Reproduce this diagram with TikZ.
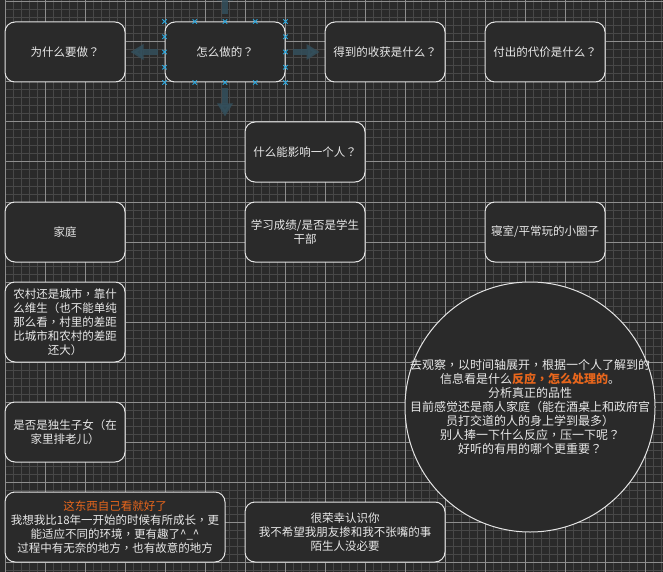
\documentclass[tikz,border=0pt]{standalone}
\usepackage{fontspec}
\newfontfamily\cjk{Noto Sans CJK SC}
\newfontfamily\cjkp{Noto Sans CJK TC}
\newcommand\fq{{\cjkp ？}}
\newcommand\fc{{\cjkp ，}}
\usetikzlibrary{arrows.meta,calc}
\definecolor{bg}{HTML}{2A2A2A}
\definecolor{minorg}{HTML}{484848}
\definecolor{majorg}{HTML}{8E8E8E}
\definecolor{edge}{HTML}{E4E4E4}
\definecolor{txt}{HTML}{E8E8E8}
\definecolor{orng}{HTML}{E8661C}
\definecolor{handle}{HTML}{2AAAE2}
\definecolor{hint}{HTML}{34505D}
\begin{document}
\begin{tikzpicture}[x=1pt,y=-1pt,
  box/.style={draw=edge, line width=1pt, fill=bg, rounded corners=10pt,
    minimum width=120pt, minimum height=60pt, inner sep=1pt, align=center,
    text=txt, font=\cjk\fontsize{11.5}{14}\selectfont},
  plain/.style={inner sep=0pt, align=center, text=txt, font=\cjk\fontsize{11.5}{14}\selectfont},
  bubble/.style={circle, draw=edge, fill=bg, minimum size=250pt, inner sep=0pt, line width=1pt},
  hintarrow/.style={hint, opacity=0.85, line width=6pt, -{Triangle[width=15pt,length=13pt]}},
  handlemark/.style={handle, line width=0.8pt}
]
\useasboundingbox (0,0) rectangle (663,572);
\clip (0,0) rectangle (663,572);
\fill[bg] (0,0) rectangle (663,572);
% grid
\foreach \i in {0,...,82} \draw[minorg, line width=1pt] ({5+8*\i},0) -- ({5+8*\i},572);
\foreach \j in {0,...,71} \draw[minorg, line width=1pt] (5,{2+8*\j}) -- (663,{2+8*\j});
\foreach \i in {0,...,16} \draw[majorg, line width=1pt] ({5+40*\i},0) -- ({5+40*\i},572);
\foreach \j in {0,...,14} \draw[majorg, line width=1pt] (5,{2+40*\j}) -- (663,{2+40*\j});

% nodes
\node[box] (why) at (65,52) {为什么要做\fq};
\node[box] (how) at (225,52) {怎么做的\fq};
\node[box] (gain) at (385,52) {得到的收获是什么\fq};
\node[box] (cost) at (545,52) {付出的代价是什么\fq};
\node[box] (infl) at (305,152) {什么能影响一个人\fq};
\node[box] (fam) at (65,232) {家庭};
\node[box] (study) at (305,232) {学习成绩/是否是学生\\干部};
\node[box] (dorm) at (545,232) {寝室/平常玩的小圈子};
\node[box, minimum height=80pt] (rural) at (65,322) {农村还是城市\fc 靠什\\么维生（也不能单纯\\那么看\fc 村里的差距\\比城市和农村的差距\\还大）};
\node[box] (only) at (65,432) {是否是独生子女（在\\家里排老儿）};
\node[box, minimum width=220pt, minimum height=70pt] (self) at (115,527) {{\color{orng}这东西自己看就好了}\\我想我比18年一开始的时候有所成长\fc 更\\能适应不同的环境\fc 更有趣了\textasciicircum\_\textasciicircum\\过程中有无奈的地方\fc 也有故意的地方};
\node[box, minimum width=200pt] (glad) at (345,532) {很荣幸认识你\\我不希望我朋友掺和我不张嘴的事\\陌生人没必要};
\node[bubble] (obs) at (530,407) {};
\node[plain, font=\cjk\fontsize{12}{14}\selectfont] (obstext) at (obs.center) {去观察\fc 以时间轴展开\fc 根据一个人了解到的\\信息看是什么{\color{orng}\bfseries 反应\fc 怎么处理的}。\\分析真正的品性\\目前感觉还是商人家庭（能在酒桌上和政府官\\员打交道的人的身上学到最多）\\别人捧一下什么反应\fc 压一下呢\fq\\好听的有用的哪个更重要\fq};

% quick-connect hint arrows around the selected node
\coordinate (la) at ($(how.west)+(-7,0)$);
\coordinate (lb) at ($(how.west)+(-34,0)$);
\coordinate (ra) at ($(how.east)+(7,0)$);
\coordinate (rb) at ($(how.east)+(34,0)$);
\coordinate (da) at ($(how.south)+(0,6)$);
\coordinate (db) at ($(how.south)+(0,34)$);
\coordinate (ua) at ($(how.north)+(0,-7)$);
\coordinate (ub) at ($(how.north)+(0,-34)$);
\draw[hintarrow] (la) -- (lb);
\draw[hintarrow] (ra) -- (rb);
\draw[hintarrow] (da) -- (db);
\draw[hintarrow] (ua) -- (ub);

% selection handles
\foreach \f in {0,0.25,0.5,0.75,1}{
  \coordinate (ht) at ($(how.north west)!\f!(how.north east)$);
  \coordinate (hb) at ($(how.south west)!\f!(how.south east)$);
  \draw[handlemark] ($(ht)+(-2.2,-2.2)$) -- ($(ht)+(2.2,2.2)$) ($(ht)+(-2.2,2.2)$) -- ($(ht)+(2.2,-2.2)$);
  \draw[handlemark] ($(hb)+(-2.2,-2.2)$) -- ($(hb)+(2.2,2.2)$) ($(hb)+(-2.2,2.2)$) -- ($(hb)+(2.2,-2.2)$);
}
\foreach \f in {0.25,0.5,0.75}{
  \coordinate (hl) at ($(how.north west)!\f!(how.south west)$);
  \coordinate (hr) at ($(how.north east)!\f!(how.south east)$);
  \draw[handlemark] ($(hl)+(-2.2,-2.2)$) -- ($(hl)+(2.2,2.2)$) ($(hl)+(-2.2,2.2)$) -- ($(hl)+(2.2,-2.2)$);
  \draw[handlemark] ($(hr)+(-2.2,-2.2)$) -- ($(hr)+(2.2,2.2)$) ($(hr)+(-2.2,2.2)$) -- ($(hr)+(2.2,-2.2)$);
}
\end{tikzpicture}
\end{document}
